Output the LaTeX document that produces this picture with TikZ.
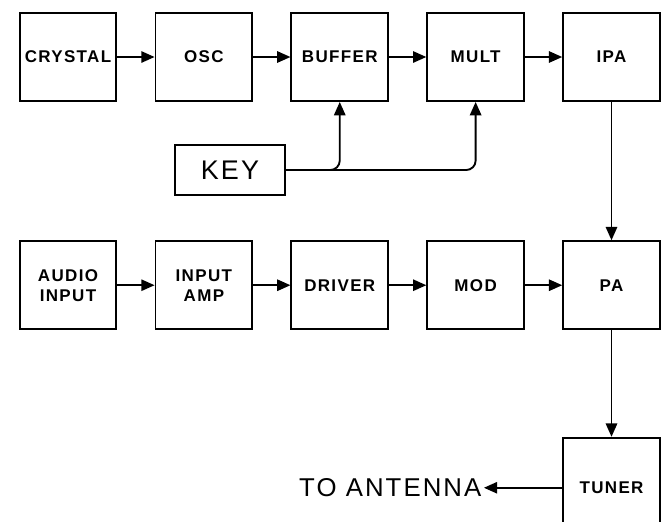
\documentclass[tikz,border=0pt]{standalone}
\usepackage{fontspec}
\setmainfont{Liberation Sans}
\newfontfamily\boxfont[LetterSpace=8]{Liberation Sans}
\newfontfamily\plainfont[LetterSpace=8]{Liberation Sans}
\usepackage{tikz}
\usetikzlibrary{arrows.meta,positioning}

\begin{document}
\begin{tikzpicture}[
        node distance=1.12cm and 1.12cm,
        box/.style={rectangle, draw, line width=1.6pt, minimum width=2.9cm,
                    minimum height=2.64cm, align=center,
                    font=\boxfont\bfseries\fontsize{14.5}{17}\selectfont},
        keybox/.style={rectangle, draw, line width=1.6pt, minimum width=3.3cm,
                    minimum height=1.5cm, font=\plainfont\fontsize{23}{26}\selectfont},
        arrow/.style={-{Triangle[length=4mm, width=3.4mm]}, line width=1.6pt}
    ]
        \useasboundingbox (0,0) rectangle (20.04,-15.63);
        % transmitter chain
        \node[box] (crystal) at (2.04,-1.71) {CRYSTAL};
        \node[box, right=of crystal] (osc) {OSC};
        \node[box, right=of osc] (buffer) {BUFFER};
        \node[box, right=of buffer] (mult) {MULT};
        \node[box, right=of mult] (ipa) {IPA};
        \node[keybox] (key) at (6.9,-5.1) {KEY};
        % audio chain
        \node[box, below=4.15cm of ipa] (pa) {PA};
        \node[box, left=of pa] (mod) {MOD};
        \node[box, left=of mod] (driver) {DRIVER};
        \node[box, left=of driver] (amp) {INPUT\\AMP};
        \node[box, left=of amp] (audio) {AUDIO\\INPUT};
        \node[box, below=3.2cm of pa, minimum height=3cm] (tuner) {TUNER};
        \node[left=2.35cm of tuner, inner sep=2pt, font=\plainfont\fontsize{22}{25}\selectfont] (ant) {TO ANTENNA};

        \draw[arrow] (crystal) -- (osc);
        \draw[arrow] (osc) -- (buffer);
        \draw[arrow] (buffer) -- (mult);
        \draw[arrow] (mult) -- (ipa);
        \draw[arrow, rounded corners=8pt] (key.east) -| (mult.south);
        \draw[arrow, rounded corners=8pt] (key.east) -| (buffer.south);
        \draw[arrow] (ipa) -- (pa);
        \draw[arrow] (audio) -- (amp);
        \draw[arrow] (amp) -- (driver);
        \draw[arrow] (driver) -- (mod);
        \draw[arrow] (mod) -- (pa);
        \draw[arrow] (pa) -- (tuner);
        \draw[arrow] (tuner) -- (ant);
    \end{tikzpicture}
\end{document}
